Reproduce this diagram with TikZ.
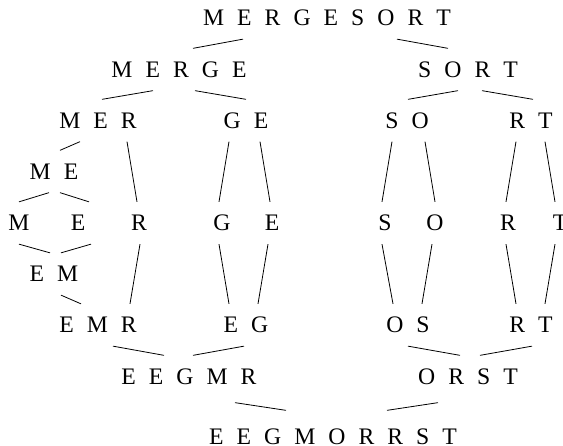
\documentclass[tikz,border=0pt]{standalone}
\usepackage{fontspec}
\setmainfont{Liberation Serif}[WordSpace=2.2]
\begin{document}
\begin{tikzpicture}[x=1pt, y=-1pt, line width=0.8pt,
    every node/.style={inner xsep=0pt, inner ysep=13pt, text height=15.5pt, text depth=0pt,
        font=\fontsize{23.7}{28}\selectfont}]
        \useasboundingbox (0,0) rectangle (563,446);

        \node (n00) at (327,18) {M E R G E S O R T};

        \node (n10) at (179,69.5) {M E R G E};
        \node (n11) at (468,69.5) {S O R T};

        \node (n20) at (98,120.5) {M E R};
        \node (n21) at (246,120.5) {G E};
        \node (n22) at (407,120.5) {S O};
        \node (n23) at (531,120.5) {R T};

        \node (n30) at (54,171.5) {M E};

        \node (n40) at (19,223) {M};
        \node (n41) at (78,223) {E};
        \node (n42) at (139,223) {R};
        \node (n43) at (222,223) {G};
        \node (n44) at (272,223) {E};
        \node (n45) at (385,223) {S};
        \node (n46) at (435,223) {O};
        \node (n47) at (508,223) {R};
        \node (n48) at (560,223) {T};

        \node (n50) at (54,274) {E M};

        \node (n60) at (98,325) {E M R};
        \node (n61) at (246,325) {E G};
        \node (n62) at (408,325) {O S};
        \node (n63) at (531,325) {R T};

        \node (n70) at (189,376.5) {E E G M R};
        \node (n71) at (468,376.5) {O R S T};

        \node (n80) at (333,436.5) {E E G M O R R S T};

        \draw ([xshift=-84pt]n00.south) -- ([xshift=14pt]n10.north);
        \draw ([xshift=70pt]n00.south) -- ([xshift=-20pt]n11.north);
        \draw ([xshift=-26pt]n10.south) -- ([xshift=4pt]n20.north);
        \draw ([xshift=16pt]n10.south) -- ([xshift=0pt]n21.north);
        \draw ([xshift=-10pt]n11.south) -- ([xshift=1pt]n22.north);
        \draw ([xshift=14pt]n11.south) -- ([xshift=2pt]n23.north);
        \draw ([xshift=-18pt]n20.south) -- ([xshift=6pt]n30.north);
        \draw ([xshift=29pt]n20.south) -- ([xshift=-2pt]n42.north);
        \draw ([xshift=-17pt]n21.south) -- ([xshift=-3pt]n43.north);
        \draw ([xshift=14pt]n21.south) -- ([xshift=-2pt]n44.north);
        \draw ([xshift=-15pt]n22.south) -- ([xshift=-3pt]n45.north);
        \draw ([xshift=18pt]n22.south) -- ([xshift=0pt]n46.north);
        \draw ([xshift=-15pt]n23.south) -- ([xshift=-2pt]n47.north);
        \draw ([xshift=14pt]n23.south) -- ([xshift=-5pt]n48.north);
        \draw ([xshift=-5pt]n30.south) -- ([xshift=0pt]n40.north);
        \draw ([xshift=6pt]n30.south) -- ([xshift=11pt]n41.north);
        \draw ([xshift=0pt]n40.south) -- ([xshift=-4pt]n50.north);
        \draw ([xshift=13pt]n41.south) -- ([xshift=7pt]n50.north);
        \draw ([xshift=7pt]n50.south) -- ([xshift=-17pt]n60.north);
        \draw ([xshift=1pt]n42.south) -- ([xshift=32pt]n60.north);
        \draw ([xshift=-3pt]n43.south) -- ([xshift=-17pt]n61.north);
        \draw ([xshift=-4pt]n44.south) -- ([xshift=12pt]n61.north);
        \draw ([xshift=-3pt]n45.south) -- ([xshift=-15pt]n62.north);
        \draw ([xshift=-3pt]n46.south) -- ([xshift=14pt]n62.north);
        \draw ([xshift=-2pt]n47.south) -- ([xshift=-15pt]n63.north);
        \draw ([xshift=-5pt]n48.south) -- ([xshift=14pt]n63.north);
        \draw ([xshift=15pt]n60.south) -- ([xshift=-25pt]n70.north);
        \draw ([xshift=-2pt]n61.south) -- ([xshift=4pt]n70.north);
        \draw ([xshift=0pt]n62.south) -- ([xshift=-8pt]n71.north);
        \draw ([xshift=1pt]n63.south) -- ([xshift=12pt]n71.north);
        \draw ([xshift=46pt,yshift=-5pt]n70.south) -- ([xshift=-47pt,yshift=5pt]n80.north);
        \draw ([xshift=-30pt,yshift=-5pt]n71.south) -- ([xshift=54pt,yshift=5pt]n80.north);
    \end{tikzpicture}
\end{document}
